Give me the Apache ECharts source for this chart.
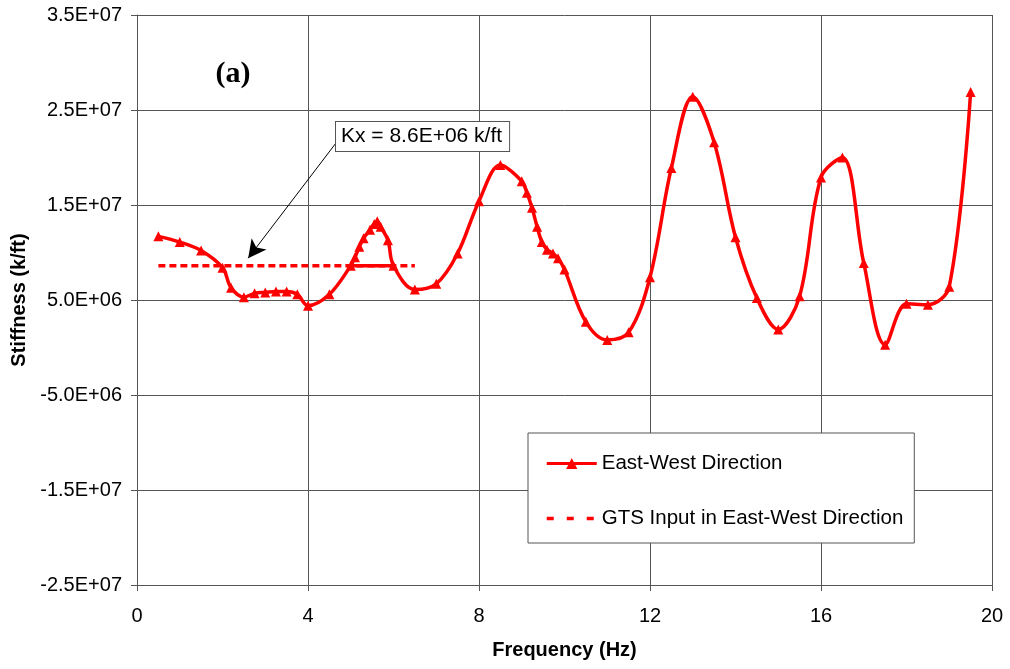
<!DOCTYPE html>
<html>
<head>
<meta charset="utf-8">
<script src="https://cdn.jsdelivr.net/npm/echarts@6/dist/echarts.min.js"></script>
<style>
  html, body { margin: 0; padding: 0; background: #fff; }
  #chart { width: 1010px; height: 669px; }
</style>
</head>
<body>
<div id="chart"></div>
<script>
// Measured dynamic stiffness, East-West direction (frequency in Hz, stiffness in k/ft)
const ewFreq = [0.5, 1.0, 1.5, 2.0, 2.2, 2.5, 2.75, 3.0, 3.25, 3.5, 3.75, 4.0, 4.5,
  5.0, 5.1, 5.2, 5.3, 5.45, 5.55, 5.62, 5.7, 5.87, 6.0,
  6.5, 7.0, 7.5, 8.0, 8.5, 9.0, 9.12, 9.24, 9.36, 9.47, 9.59, 9.73, 9.85, 10.0,
  10.5, 11.0, 11.5, 12.0, 12.5, 13.0, 13.5, 14.0, 14.5, 15.0, 15.5, 16.0, 16.5,
  17.0, 17.5, 18.0, 18.5, 19.0, 19.5];
const ewStiff = [11.7e6, 11.1e6, 10.2e6, 8.4e6, 6.3e6, 5.3e6, 5.7e6, 5.8e6, 5.9e6, 5.9e6, 5.6e6, 4.4e6, 5.6e6,
  8.6e6, 9.5e6, 10.6e6, 11.5e6, 12.4e6, 13.0e6, 13.3e6, 12.7e6, 11.3e6, 8.6e6,
  6.1e6, 6.7e6, 9.9e6, 15.4e6, 19.2e6, 17.5e6, 16.3e6, 14.7e6, 12.7e6, 11.1e6, 10.3e6, 9.9e6, 9.4e6, 8.2e6,
  2.7e6, 0.8e6, 1.6e6, 7.4e6, 18.9e6, 26.4e6, 21.6e6, 11.6e6, 5.2e6, 1.9e6, 5.4e6, 17.9e6, 20.0e6,
  8.9e6, 0.3e6, 4.6e6, 4.5e6, 6.4e6, 26.9e6];

// Stiffness used as GTS input (constant over the input band)
const gtsFreq = [0.5, 6.5];
const gtsStiff = [8.6e6, 8.6e6];

// Chord joining the ends of the 5-6 Hz sweep
const chordFreq = [5.0, 6.0];

const seriesNames = ['East-West Direction', 'GTS Input in East-West Direction'];
const kxLabel = 'Kx = 8.6E+06 k/ft';
const panelLabel = '(a)';

const xTicks = { min: 0, max: 20, interval: 4 };
const yTicks = { min: -2.5e7, max: 3.5e7, interval: 1e7 };

function sci(v) {
  if (v === 0) return '0.0E+00';
  const parts = v.toExponential(1).split('e');
  const exp = parseInt(parts[1], 10);
  const sign = exp < 0 ? '-' : '+';
  const mag = String(Math.abs(exp)).padStart(2, '0');
  return parts[0] + 'E' + sign + mag;
}

const ewData = ewFreq.map((f, i) => [f, ewStiff[i]]);
const gtsData = gtsFreq.map((f, i) => [f, gtsStiff[i]]);
const chordData = chordFreq.map(f => [f, ewStiff[ewFreq.indexOf(f)]]);

const FONT = '"Liberation Sans", Arial, sans-serif';
const RED = '#ff0000';
const GRID = '#555';

const chart = echarts.init(document.getElementById('chart'), null, { renderer: 'canvas' });

chart.setOption({
  animation: false,
  backgroundColor: '#fff',
  textStyle: { fontFamily: FONT },
  grid: { left: 137, right: 18, top: 15, bottom: 84, containLabel: false },
  xAxis: {
    type: 'value',
    min: xTicks.min, max: xTicks.max, interval: xTicks.interval,
    name: 'Frequency (Hz)',
    nameLocation: 'middle',
    nameGap: 55,
    nameTextStyle: { fontFamily: FONT, fontSize: 20, fontWeight: 'bold', color: '#000' },
    axisLine: { show: true, onZero: false, lineStyle: { color: GRID, width: 1 } },
    axisTick: { show: true, inside: false, length: 6, lineStyle: { color: GRID } },
    axisLabel: { fontFamily: FONT, fontSize: 20, color: '#000', margin: 21 },
    splitLine: { show: true, lineStyle: { color: GRID, width: 1 } }
  },
  yAxis: {
    type: 'value',
    min: yTicks.min, max: yTicks.max, interval: yTicks.interval,
    name: 'Stiffness (k/ft)',
    nameLocation: 'middle',
    nameGap: 108,
    nameTextStyle: { fontFamily: FONT, fontSize: 20, fontWeight: 'bold', color: '#000' },
    axisLine: { show: true, onZero: false, lineStyle: { color: GRID, width: 1 } },
    axisTick: { show: true, inside: false, length: 6, lineStyle: { color: GRID } },
    axisLabel: { fontFamily: FONT, fontSize: 20, color: '#000', margin: 15, formatter: sci },
    splitLine: { show: true, lineStyle: { color: GRID, width: 1 } }
  },
  legend: {
    orient: 'vertical',
    left: 528, top: 433,
    padding: [20, 11, 14, 17],
    itemGap: 34,
    itemWidth: 50,
    itemHeight: 14,
    backgroundColor: '#fff',
    borderColor: GRID,
    borderWidth: 1,
    textStyle: { fontFamily: FONT, fontSize: 20.5, color: '#000', lineHeight: 20 },
    data: [
      { name: seriesNames[0], lineStyle: { width: 3 } },
      {
        name: seriesNames[1],
        itemStyle: { color: 'rgba(0,0,0,0)', opacity: 0, borderWidth: 0 },
        lineStyle: { type: [7, 13], width: 3.5 }
      }
    ]
  },
  graphic: [
    {
      type: 'group',
      z: 50,
      children: [
        { type: 'rect', shape: { x: 198, y: 30, width: 96, height: 83 }, style: { fill: '#fff' } },
        {
          type: 'text', x: 233, y: 74,
          style: {
            text: panelLabel, fill: '#000',
            font: 'bold 30px "Liberation Serif", "Times New Roman", serif',
            textAlign: 'center', textVerticalAlign: 'middle'
          }
        }
      ]
    },
    {
      type: 'text', z: 50,
      x: 336, y: 122,
      style: {
        text: kxLabel, fill: '#000',
        font: '21px "Liberation Sans", Arial, sans-serif',
        backgroundColor: '#fff',
        borderColor: GRID, borderWidth: 1,
        padding: [4, 7, 4, 5]
      }
    }
  ],
  series: [
    {
      name: seriesNames[0],
      type: 'line',
      data: ewData,
      smooth: 0.35,
      symbol: 'triangle',
      symbolSize: 10,
      showAllSymbol: true,
      lineStyle: { color: RED, width: 3.5 },
      itemStyle: { color: RED },
      z: 4
    },
    {
      name: seriesNames[1],
      type: 'line',
      data: gtsData,
      symbol: 'none',
      lineStyle: { color: RED, width: 3.5, type: [7, 4] },
      itemStyle: { color: RED },
      z: 3,
      markLine: {
        silent: true,
        symbol: ['none', 'arrow'],
        symbolSize: [14, 18],
        label: { show: false },
        lineStyle: { color: '#000', width: 1, type: 'solid' },
        data: [[{ coord: [4.65, 2.15e7] }, { coord: [2.6, 9.4e6] }]]
      }
    },
    {
      name: 'chord',
      type: 'line',
      data: chordData,
      symbol: 'none',
      lineStyle: { color: RED, width: 3.5 },
      itemStyle: { color: RED },
      z: 4
    }
  ]
});
</script>
</body>
</html>
